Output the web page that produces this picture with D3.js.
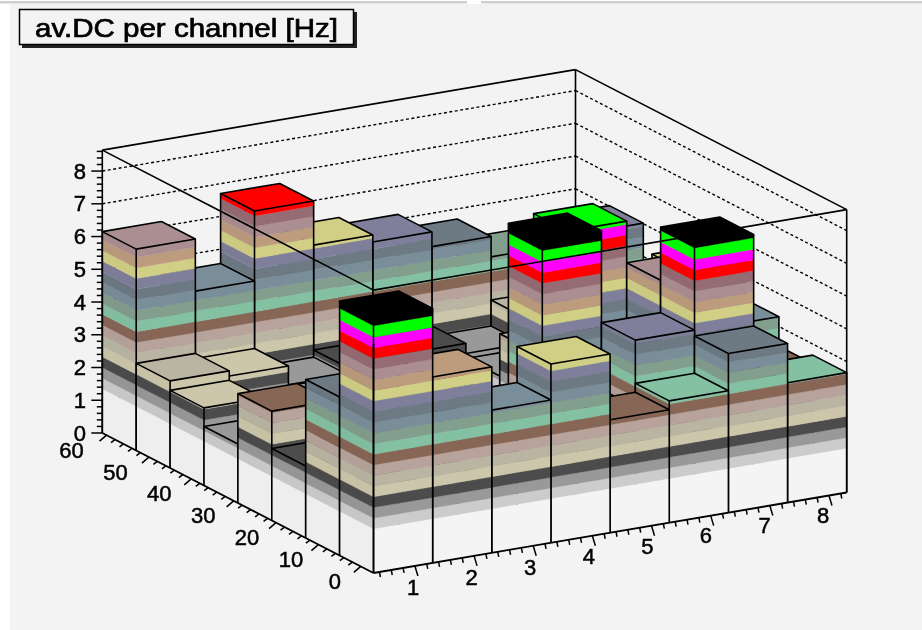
<!DOCTYPE html>
<html lang="en">
<head>
    <meta charset="UTF-8">
    <title>av.DC per channel [Hz]</title>
    <script src="https://d3js.org/d3.v7.min.js"></script>
    <style>
        html, body { margin: 0; padding: 0; background: #ffffff; }
        svg { display: block; filter: blur(0.5px); }
        text { font-family: "Liberation Sans", Arial, sans-serif; fill: #000; stroke: #000; stroke-width: 0.5px; }
    </style>
</head>
<body>
    <svg width="922" height="630"></svg>
    <script>
        // mean dark count per bin, front row (y bin 0) first, x bins 1..8 left to right
        const yBin0 = [7.77, 5.68, 4.36, 5.46, 3.45, 3.72, 4.86, 3.66];
        const yBin1 = [4.84, 3.20, 3.00, 3.00, 3.00, 5.04, 7.65, 3.40];
        const yBin2 = [2.20, 3.10, 3.20, 2.70, 7.85, 4.20, 6.03, 4.30];
        const yBin3 = [3.34, 2.60, 2.80, 2.40, 2.10, 7.30, 4.40, 5.45];
        const yBin4 = [1.80, 2.20, 2.30, 2.00, 1.50, 3.10, 3.60, 3.80];
        const yBin5 = [2.37, 1.70, 1.90, 1.90, 1.30, 1.81, 3.20, 3.60];
        const yBin6 = [2.66, 2.50, 1.93, 2.15, 2.27, 1.96, 2.75, 5.02];
        const yBin7 = [6.15, 4.56, 6.70, 5.35, 5.14, 4.69, 4.07, 3.80];
        const yBins = [yBin0, yBin1, yBin2, yBin3, yBin4, yBin5, yBin6, yBin7];

        // bin edges of the two axes
        const xEdges = [0.5, 1.5, 2.5, 3.5, 4.5, 5.5, 6.5, 7.5, 8.5];
        const yEdges = [-3, 5, 13, 21, 29, 37, 45, 53, 61];

        // tick labels
        const xLabels = [1, 2, 3, 4, 5, 6, 7, 8];
        const yLabels = [0, 10, 20, 30, 40, 50, 60];
        const zLabels = [0, 1, 2, 3, 4, 5, 6, 7, 8];

        // contour levels and the colour used between them
        const zLevels = [0, 1.35, 1.675, 2, 2.325, 2.65, 2.975, 3.3, 3.625, 3.95, 4.275,
                         4.6, 4.925, 5.25, 5.575, 5.9, 6.225, 6.55, 6.875, 7.2, 7.55];
        const bandColors = ["#f4f4f4", "#cccccc", "#999999", "#4c4c4c", "#ccc6aa", "#bab5a3", "#b7a39b",
                            "#876656", "#84c1a3", "#829e8c", "#7a8e99", "#6d7a84", "#7f7f9b", "#d1ce85",
                            "#bd9c7e", "#ab8e92", "#966c74", "#ff0000", "#ff00ff", "#00ff00", "#000000"];

        const zTop = 8.64;
        const svg = d3.select("svg");

        var origin = [373.5, 573];
        var xAxisVec = [473.2, -80.5];
        var yAxisVec = [-271.2, -140];
        var zHeight = 282.9;

        var xScale = d3.scaleLinear().domain([0.5, 8.5]).range([0, 1]);
        var yScale = d3.scaleLinear().domain([-3, 61]).range([0, 1]);
        var zScale = d3.scaleLinear().domain([0, zTop]).range([0, zHeight]);

        function project(x, y, z) {
            var fx = xScale(x), fy = yScale(y);
            return [origin[0] + fx * xAxisVec[0] + fy * yAxisVec[0],
                    origin[1] + fx * xAxisVec[1] + fy * yAxisVec[1] - zScale(z)];
        }

        var path = d3.line();

        function poly(parent, pts, fill, stroke) {
            parent.append("path")
                .attr("d", path(pts) + "Z")
                .attr("fill", fill)
                .attr("stroke", stroke || fill)
                .attr("stroke-width", stroke ? 1.6 : 0.3)
                .attr("stroke-linejoin", "round");
        }

        function seg(parent, a, b, dash, width) {
            parent.append("line")
                .attr("x1", a[0]).attr("y1", a[1])
                .attr("x2", b[0]).attr("y2", b[1])
                .attr("stroke", "#000")
                .attr("stroke-width", width || 1.6)
                .attr("stroke-dasharray", dash || null);
        }

        function bandIndex(z) {
            return d3.bisectRight(zLevels, z) - 1;
        }

        // pad background
        svg.append("rect").attr("x", 0).attr("y", 0).attr("width", 922).attr("height", 630).attr("fill", "#fff");
        svg.append("rect").attr("x", 10).attr("y", 4).attr("width", 912).attr("height", 626).attr("fill", "#f3f3f3");
        svg.append("rect").attr("x", 0).attr("y", 1).attr("width", 467).attr("height", 2.5).attr("fill", "#cfcfcf");
        svg.append("rect").attr("x", 481).attr("y", 1).attr("width", 441).attr("height", 2.5).attr("fill", "#cfcfcf");

        // back walls with the dotted grid
        var walls = svg.append("g");
        var xMin = 0.5, xMax = 8.5, yMin = -3, yMax = 61;
        zLabels.slice(1).forEach(function(z) {
            seg(walls, project(xMin, yMax, z), project(xMax, yMax, z), "3,2.5", 1.4);
            seg(walls, project(xMax, yMax, z), project(xMax, yMin, z), "3,2.5", 1.4);
        });
        seg(walls, project(xMin, yMax, zTop), project(xMax, yMax, zTop));
        seg(walls, project(xMax, yMax, zTop), project(xMax, yMin, zTop));
        seg(walls, project(xMax, yMax, 0), project(xMax, yMax, zTop));

        // lego bars, painted from the back corner to the front one
        var bars = svg.append("g");
        for (var j = yBins.length - 1; j >= 0; j--) {
            for (var i = yBins[j].length - 1; i >= 0; i--) {
                drawBar(bars, xEdges[i], xEdges[i + 1], yEdges[j], yEdges[j + 1], yBins[j][i]);
            }
        }

        function drawBar(g, x0, x1, y0, y1, val) {
            var top = bandIndex(val);
            d3.range(0, top + 1).forEach(function(b) {
                var lo = zLevels[b], hi = Math.min(val, b < top ? zLevels[b + 1] : val);
                // face looking towards low x
                poly(g, [project(x0, y1, lo), project(x0, y0, lo), project(x0, y0, hi), project(x0, y1, hi)],
                     d3.color(bandColors[b]).darker(0.07).formatHex());
                // face looking towards low y
                poly(g, [project(x0, y0, lo), project(x1, y0, lo), project(x1, y0, hi), project(x0, y0, hi)],
                     bandColors[b]);
            });
            poly(g, [project(x0, y0, val), project(x1, y0, val), project(x1, y1, val), project(x0, y1, val)],
                 bandColors[top], "#000");
            seg(g, project(x0, y1, val), project(x0, y1, 0));
            seg(g, project(x0, y0, val), project(x0, y0, 0));
            seg(g, project(x1, y0, val), project(x1, y0, 0));
        }

        // front edges of the box go over the bars
        var frame = svg.append("g");
        seg(frame, project(xMin, yMax, zTop), project(xMin, yMin, zTop));
        seg(frame, project(xMin, yMin, zTop), project(xMax, yMin, zTop));
        seg(frame, project(xMin, yMax, 0), project(xMin, yMax, zTop));
        seg(frame, project(xMax, yMin, 0), project(xMax, yMin, zTop));
        seg(frame, project(xMin, yMin, 0), project(xMin, yMin, 7));
        seg(frame, project(xMin, yMin, 0), project(xMax, yMin, 0), null, 1.8);
        seg(frame, project(xMin, yMin, 0), project(xMin, yMax, 0), null, 1.8);

        // z axis
        var axes = svg.append("g");
        d3.range(0, 44).forEach(function(k) {
            var z = k * 0.2, p = project(xMin, yMax, z), major = k % 5 === 0;
            seg(axes, p, [p[0] - (major ? 11 : 5.5), p[1]], null, 1.5);
        });
        axes.selectAll("text.z").data(zLabels).enter().append("text")
            .attr("class", "z")
            .attr("x", 86)
            .attr("y", d => project(xMin, yMax, d)[1] + 7.5)
            .attr("text-anchor", "end")
            .attr("font-size", 22)
            .text(d => d);

        // y axis
        d3.range(0, 31).forEach(function(k) {
            var v = k * 2, p = project(xMin, v, 0), major = k % 5 === 0;
            seg(axes, p, major ? [p[0] - 7, p[1] + 6] : [p[0] - 4, p[1] + 3], null, 1.5);
        });
        axes.selectAll("text.y").data(yLabels).enter().append("text")
            .attr("class", "y")
            .attr("x", d => project(xMin, d, 0)[0] - 26 - d * 0.15)
            .attr("y", d => project(xMin, d, 0)[1] + 22.5)
            .attr("text-anchor", "middle")
            .attr("font-size", 22)
            .text(d => d);

        // x axis
        d3.range(0, 40).forEach(function(k) {
            var v = 0.6 + k * 0.2, p = project(v, yMin, 0), major = (k + 2) % 5 === 0;
            seg(axes, p, major ? [p[0] + 3, p[1] + 10] : [p[0] + 1, p[1] + 5], null, 1.5);
        });
        axes.selectAll("text.x").data(xLabels).enter().append("text")
            .attr("class", "x")
            .attr("x", d => project(d, yMin, 0)[0] + 10 - (d - 1) * 0.57)
            .attr("y", d => project(d, yMin, 0)[1] + 27.5 - (d - 1) * 0.36)
            .attr("text-anchor", "middle")
            .attr("font-size", 22)
            .text(d => d);

        // title box
        var title = svg.append("g");
        title.append("rect").attr("x", 22).attr("y", 12).attr("width", 335).attr("height", 36).attr("fill", "#222");
        title.append("rect").attr("x", 19.5).attr("y", 9.5).attr("width", 334).attr("height", 35)
            .attr("fill", "#f3f3f3").attr("stroke", "#000").attr("stroke-width", 1.5);
        title.append("text")
            .attr("x", 35).attr("y", 36.5)
            .attr("font-size", 26)
            .attr("textLength", 303)
            .attr("lengthAdjust", "spacingAndGlyphs")
            .style("stroke-width", "0.7px")
            .text("av.DC per channel [Hz]");
    </script>
</body>
</html>
